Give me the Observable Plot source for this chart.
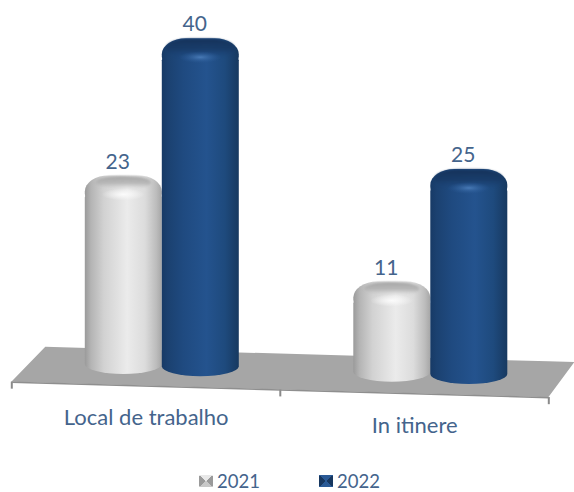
<!DOCTYPE html>
<html>
<head>
<meta charset="utf-8">
<script src="https://cdn.jsdelivr.net/npm/d3@7"></script>
<script src="https://cdn.jsdelivr.net/npm/@observablehq/plot@0.6"></script>
<style>
  html, body { margin: 0; background: #fff; }
  #chart svg { display: block; }
  #legend { position: relative; height: 22px; font: 18.5px Lato, sans-serif; color: #44648c; }
  #legend .item { position: absolute; top: 0; display: flex; align-items: center; gap: 4px; line-height: 22px; }
  #legend i { display: block; width: 14px; height: 12px; }
</style>
</head>
<body>
<div id="chart"></div>
<div id="legend"></div>
<script>
const categories = ["Local de trabalho", "In itinere"];
const series = ["2021", "2022"];
const values2021 = [23, 11];
const values2022 = [40, 25];

// Drawing proportions of the pseudo-3D scene.
const pxPerUnit = 8.2;
const pxPerCategory = 268.5;
const leanPerCategory = 0.946;        // the floor falls towards the right
const barWidth = 77 / pxPerCategory;
const dv = (px) => px / pxPerUnit;    // pixels to value units
const lean = (x, v) => v - leanPerCategory * x;

const bars = [];
categories.forEach((category, c) => {
  bars.push({category, series: series[0], value: values2021[c], x: c - barWidth / 2});
  bars.push({category, series: series[1], value: values2022[c], x: c + barWidth / 2});
});
const silver = bars.filter((d) => d.series === series[0]);
const blue = bars.filter((d) => d.series === series[1]);

// Floor parallelogram, in category units and value units.
const floorFront = -2.55, floorBack = 1.82;
const floorLeft = -0.5605, floorRight = 1.4395, floorBackLeft = -0.434, floorBackRight = 1.536;
const floorFrontAt = (x) => lean(x, floorFront);
const floorBackAt = (x) => lean(x, floorBack);
const floorShape = [
  {x: floorLeft, y1: floorFrontAt(floorLeft), y2: floorFrontAt(floorLeft)},
  {x: floorBackLeft, y1: floorFrontAt(floorBackLeft), y2: floorBackAt(floorBackLeft)},
  {x: floorRight, y1: floorFrontAt(floorRight), y2: floorBackAt(floorRight)},
  {x: floorBackRight, y1: floorBackAt(floorBackRight), y2: floorBackAt(floorBackRight)}
];
const floorTicks = [floorLeft, floorLeft + 1, floorLeft + 2];

function gradients() {
  const defs = d3.create("svg:defs");
  const linear = (id, stops, vertical) => {
    const g = defs.append("linearGradient").attr("id", id)
      .attr("x1", 0).attr("y1", 0).attr("x2", vertical ? 0 : 1).attr("y2", vertical ? 1 : 0);
    stops.forEach(([o, c, a]) => g.append("stop").attr("offset", o).attr("stop-color", c).attr("stop-opacity", a ?? 1));
  };
  const radial = (id, stops) => {
    const g = defs.append("radialGradient").attr("id", id);
    stops.forEach(([o, c, a]) => g.append("stop").attr("offset", o).attr("stop-color", c).attr("stop-opacity", a));
  };
  linear("silverBody", [[0, "#9a9a9a"], [0.08, "#b4b4b4"], [0.25, "#d2d2d2"], [0.55, "#ebebeb"], [0.78, "#dcdcdc"], [0.93, "#bcbcbc"], [1, "#a6a6a6"]]);
  linear("blueBody", [[0, "#173a66"], [0.08, "#1b4170"], [0.28, "#1f4a80"], [0.58, "#24538e"], [0.82, "#1e4a7d"], [1, "#173960"]]);
  linear("silverTop", [[0, "#a6a6a6", 1], [0.55, "#b4b4b4", 0.9], [1, "#cfcfcf", 0]], true);
  linear("blueTop", [[0, "#15325a", 1], [0.55, "#183a66", 0.85], [1, "#1c4477", 0]], true);
  radial("silverGlow", [[0, "#fbfbfb", 1], [1, "#fafafa", 0]]);
  radial("blueGlow", [[0, "#4a7cb8", 0.95], [1, "#2a5a96", 0]]);
  return defs.node();
}

// One cylinder set: body, shoulders, lid and the highlight below the lid.
function cylinders(data, body, top, glow, lidShare, lidDepth) {
  const x1 = (d) => d.x - barWidth / 2;
  const x2 = (d) => d.x + barWidth / 2;
  const y = (d, off) => lean(d.x, d.value) - dv(off);
  return [
    Plot.rect(data, {x1, x2, y1: (d) => lean(d.x, 0) - dv(10), y2: (d) => y(d, 12), fill: `url(#${body})`, rx: barWidth * pxPerCategory / 2, ry: 10}),
    Plot.rect(data, {x1, x2, y1: (d) => y(d, 34), y2: (d) => y(d, 0), fill: `url(#${body})`, rx: 24, ry: 16}),
    Plot.rect(data, {
      x1: (d) => d.x - barWidth * lidShare / 2, x2: (d) => d.x + barWidth * lidShare / 2,
      y1: (d) => y(d, lidDepth), y2: (d) => y(d, 0.5),
      fill: `url(#${top})`, rx: 24, ry: 10, imageFilter: "blur(0.8px)"
    }),
    Plot.rect(data, {x1: (d) => d.x - barWidth * 0.28, x2: (d) => d.x + barWidth * 0.28, y1: (d) => y(d, 25), y2: (d) => y(d, 13), fill: `url(#${glow})`, rx: barWidth * pxPerCategory * 0.28, ry: 6})
  ];
}

const plot = Plot.plot({
  width: 574,
  height: 470,
  margin: 0,
  x: {domain: [0, 1], range: [161.8, 430.3], axis: null},
  y: {domain: [0, 40], range: [365.1, 37.1], axis: null},
  marks: [
    gradients,
    Plot.areaY(floorShape, {x: "x", y1: "y1", y2: "y2", fill: "#a6a6a6", curve: "linear"}),
    Plot.ruleX(floorTicks, {x: (d) => d, y1: (d) => floorFrontAt(d), y2: (d) => floorFrontAt(d) - dv(7), stroke: "#8a8a8a", strokeWidth: 2}),
    Plot.line([floorLeft, floorRight], {x: (d) => d, y: floorFrontAt, stroke: "#8f8f8f", strokeWidth: 1.5}),
    ...cylinders(silver, "silverBody", "silverTop", "silverGlow", 0.72, 14),
    ...cylinders(blue, "blueBody", "blueTop", "blueGlow", 0.9, 20),
    Plot.text(bars, {
      x: "x",
      y: (d) => lean(d.x, d.value),
      text: (d) => String(d.value),
      dx: -6, dy: -14,
      fontFamily: "Lato, sans-serif", fontSize: 21, fill: "#44648c"
    }),
    Plot.text(categories, {
      x: (d, i) => i - 0.06,
      y: (d, i) => lean(i - 0.06, -6.46),
      text: (d) => d,
      fontFamily: "Lato, sans-serif", fontSize: 22, fill: "#44648c"
    })
  ]
});
document.getElementById("chart").append(plot);

// Legend below the chart.
const swatches = {
  "2021": "conic-gradient(#e8e8e8 0 50deg, #9a9a9a 50deg 130deg, #c8c8c8 130deg 230deg, #9a9a9a 230deg 310deg, #e8e8e8 310deg)",
  "2022": "conic-gradient(#2a5a96 0 50deg, #17375f 50deg 130deg, #2a5a96 130deg 230deg, #17375f 230deg 310deg, #2a5a96 310deg)"
};
const legend = d3.select("#legend");
series.forEach((s, i) => {
  const item = legend.append("div").attr("class", "item").style("left", `${199 + i * 120}px`);
  item.append("i").style("background", swatches[s]);
  item.append("span").text(s);
});
</script>
</body>
</html>
